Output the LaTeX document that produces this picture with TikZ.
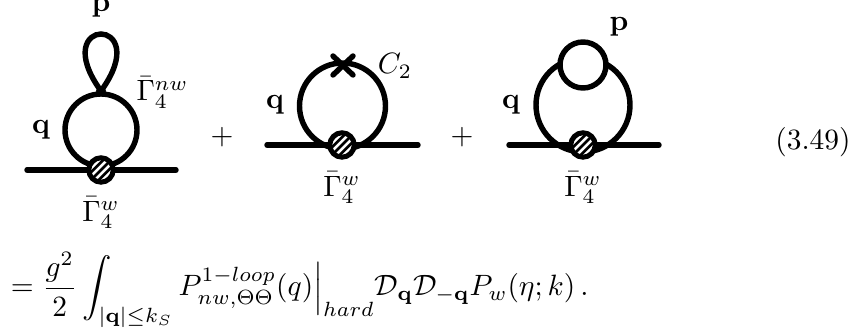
\documentclass[tikz,border=0pt]{standalone}
\usepackage{amsmath,amssymb}
\begin{document}
\begin{tikzpicture}[x=0.34pt,y=-0.34pt,
  prop/.style={line width=1.85pt,line cap=round,black},
  lab/.style={inner sep=0pt,outer sep=0pt},
  blobb/.style={circle,draw=black,fill=white,line width=1.7pt,minimum size=8.3pt,inner sep=0pt,
    path picture={\foreach \d in {-5.2,-2.6,...,5.3}{\draw[black,line width=0.9pt]
      ([shift={(\d pt-6pt,-6pt)}]path picture bounding box.center) -- ++(12pt,12pt);}}}]
\useasboundingbox (0,0) rectangle (858,336);
% diagram 1
\coordinate (c1) at (101,130);
\coordinate (l1) at (27,170); \coordinate (r1) at (176,170);
\draw[prop] (c1) circle (36);
\draw[prop] (l1) -- (r1);
\node[circle,fill=black,minimum size=3.4pt,inner sep=0pt] (j1) at (101,91) {};
\draw[prop] (j1.center) .. controls (46,15) and (156,15) .. (j1.center);
\node[blobb] (v1) at (101,170) {};
\node[lab] (p1) at (101,8) {$\mathbf{p}$};
\node[lab] (q1) at (41,130) {$\mathbf{q}$};
\node[lab] (n1) at (162.5,92.5) {$\bar\Gamma_4^{nw}$};
\node[lab] (g1) at (101,213) {$\bar\Gamma_4^{w}$};
\node[lab] (plus1) at (222,137) {$+$};
% diagram 2
\coordinate (c2) at (342.5,106);
\coordinate (l2) at (267,145); \coordinate (r2) at (418,145);
\draw[prop] (c2) circle (43);
\draw[prop] (l2) -- (r2);
\coordinate (xa) at (333,56); \coordinate (xb) at (353,75);
\coordinate (xc) at (353,56); \coordinate (xd) at (333,75);
\draw[prop] (xa) -- (xb);
\draw[prop] (xc) -- (xd);
\node[blobb] (v2) at (342,145) {};
\node[lab] (q2) at (275,105) {$\mathbf{q}$};
\node[lab] (c2l) at (395,66) {$C_2$};
\node[lab] (g2) at (342,188) {$\bar\Gamma_4^{w}$};
\node[lab] (plus2) at (462,137) {$+$};
% diagram 3
\coordinate (c3) at (583,105);
\coordinate (l3) at (509,145); \coordinate (r3) at (659,145);
\draw[prop] (c3) circle (47);
\draw[prop] (l3) -- (r3);
\draw[prop,fill=white] (583,65) circle (23);
\node[blobb] (v3) at (583,145) {};
\node[lab] (p3) at (619,27) {$\mathbf{p}$};
\node[lab] (q3) at (511,105) {$\mathbf{q}$};
\node[lab] (g3) at (583,188) {$\bar\Gamma_4^{w}$};
\node[lab] (num) at (813,142) {(3.49)};
% formula
\node[lab,anchor=base west] (eq) at (11,296) {$\displaystyle =\frac{g^2}{2}\int_{|\mathbf{q}|\leq k_S}P^{1-loop}_{nw,\Theta\Theta}(q)\Big|_{hard}\mathcal{D}_{\mathbf q}\mathcal{D}_{-\mathbf q}P_w(\eta;k)\,.$};
\end{tikzpicture}
\end{document}
